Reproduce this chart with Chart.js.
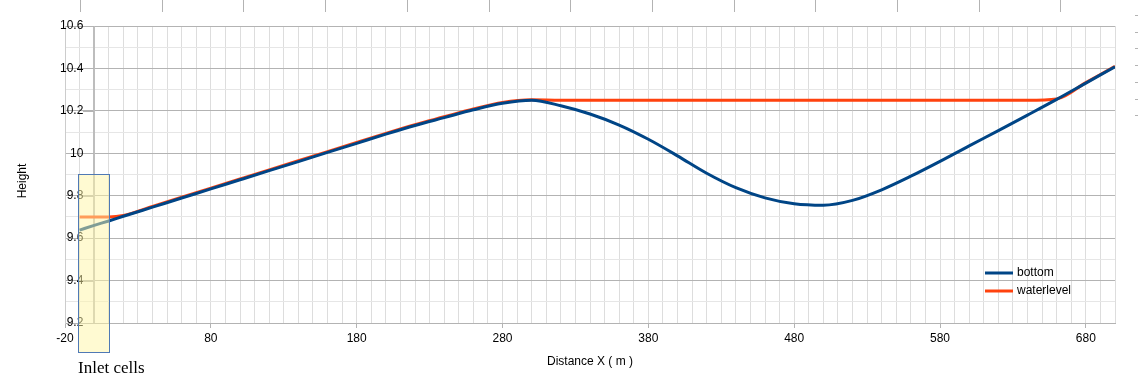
<!DOCTYPE html>
<html>
<head>
<meta charset="utf-8">
<title>Height profile</title>
<script src="https://cdn.jsdelivr.net/npm/chart.js@4.4.1/dist/chart.umd.min.js"></script>
<style>
  html, body { margin: 0; padding: 0; background: #fff; }
  #wrap { width: 1138px; height: 386px; }
</style>
</head>
<body>
<div id="wrap"><canvas id="profileChart" width="1138" height="386"></canvas></div>
<script>
// Chart data
const distance = [-10, 0, 10, 20, 40, 60, 80, 100, 120, 140, 160, 180, 200, 220, 240, 260, 280, 300,
                  320, 340, 360, 380, 400, 420, 440, 460, 480, 500, 520, 540, 560, 580, 600, 620, 640, 660, 680, 700];
const bottom = [9.638, 9.660, 9.681, 9.703, 9.746, 9.789, 9.832, 9.875, 9.918, 9.961, 10.004, 10.047, 10.090, 10.131, 10.168, 10.205, 10.236, 10.250,
                10.224, 10.185, 10.133, 10.066, 9.988, 9.906, 9.838, 9.790, 9.762, 9.755, 9.778, 9.828, 9.892, 9.962, 10.035, 10.107, 10.180, 10.254, 10.331, 10.408];
const waterlevel = [9.700, 9.700, 9.700, 9.707, 9.750, 9.793, 9.836, 9.879, 9.922, 9.965, 10.008, 10.051, 10.094, 10.135, 10.172, 10.209, 10.240, 10.252,
                    10.250, 10.250, 10.250, 10.250, 10.250, 10.250, 10.250, 10.250, 10.250, 10.250, 10.250, 10.250, 10.250, 10.250, 10.250, 10.250, 10.250, 10.256, 10.333, 10.410];

const xTickLabels = [-20, 80, 180, 280, 380, 480, 580, 680];
const yTickLabels = [9.2, 9.4, 9.6, 9.8, 10, 10.2, 10.4, 10.6];

// the y axis crosses at x = 0
const yAxisAt = 0;

// inlet cells box, in data units
const inletFrom = -11, inletTo = 10.5, inletTop = 9.9, inletBottom = 9.06;

const FONT = 'Liberation Sans, Arial, sans-serif';

function isLabel(list, v) {
    return list.some(l => Math.abs(l - v) < 1e-6);
}

const extras = {
    id: 'extras',
    beforeDatasetsDraw(chart) {
        // y axis line and its outward ticks at x = 0
        const ctx = chart.ctx;
        const xs = chart.scales.x, ys = chart.scales.y;
        const ax = Math.round(xs.getPixelForValue(yAxisAt));
        ctx.save();
        ctx.strokeStyle = '#bdbdbd';
        ctx.lineWidth = 2;
        ctx.beginPath();
        ctx.moveTo(ax, chart.chartArea.top);
        ctx.lineTo(ax, chart.chartArea.bottom);
        ctx.stroke();
        ctx.lineWidth = 1;
        ctx.strokeStyle = '#b3b3b3';
        yTickLabels.forEach(v => {
            const py = Math.round(ys.getPixelForValue(v)) + 0.5;
            ctx.beginPath();
            ctx.moveTo(ax - 11, py);
            ctx.lineTo(ax, py);
            ctx.stroke();
        });
        ctx.restore();
    },
    afterDraw(chart) {
        const ctx = chart.ctx;
        const xs = chart.scales.x, ys = chart.scales.y;

        // stray tick marks along the top and right edges
        ctx.save();
        ctx.strokeStyle = '#b3b3b3';
        ctx.lineWidth = 1;
        for (let k = 0; k < 13; k++) {
            const px = Math.round(80 + k * 81.7) + 0.5;
            ctx.beginPath();
            ctx.moveTo(px, 0);
            ctx.lineTo(px, 12);
            ctx.stroke();
        }
        for (let k = 0; k < 7; k++) {
            const py = Math.round(15 + k * 16.7) + 0.5;
            ctx.beginPath();
            ctx.moveTo(1135, py);
            ctx.lineTo(1138, py);
            ctx.stroke();
        }
        ctx.restore();

        // inlet cells box
        const bx1 = xs.getPixelForValue(inletFrom), bx2 = xs.getPixelForValue(inletTo);
        const by1 = ys.getPixelForValue(inletTop), by2 = ys.getPixelForValue(inletBottom);
        ctx.save();
        ctx.fillStyle = 'rgba(255, 246, 165, 0.5)';
        ctx.fillRect(bx1, by1, bx2 - bx1, by2 - by1);
        ctx.strokeStyle = '#4f79b5';
        ctx.lineWidth = 1;
        ctx.strokeRect(Math.round(bx1) + 0.5, Math.round(by1) + 0.5, Math.round(bx2 - bx1), Math.round(by2 - by1));
        ctx.fillStyle = '#000';
        ctx.font = '17px "Liberation Serif", "Times New Roman", serif';
        ctx.textBaseline = 'alphabetic';
        ctx.textAlign = 'left';
        ctx.fillText('Inlet cells', Math.round(bx1), 373);
        ctx.restore();

        // y axis title
        ctx.save();
        ctx.translate(23, 181);
        ctx.rotate(-Math.PI / 2);
        ctx.fillStyle = '#000';
        ctx.font = '12px ' + FONT;
        ctx.textAlign = 'center';
        ctx.textBaseline = 'middle';
        ctx.fillText('Height', 0, 0);
        ctx.restore();

        // legend
        ctx.save();
        ctx.font = '12px ' + FONT;
        ctx.textBaseline = 'middle';
        ctx.textAlign = 'left';
        chart.data.datasets.forEach((ds, i) => {
            const ly = 273 + i * 18;
            ctx.strokeStyle = ds.borderColor;
            ctx.lineWidth = 3;
            ctx.beginPath();
            ctx.moveTo(985, ly);
            ctx.lineTo(1013, ly);
            ctx.stroke();
            ctx.fillStyle = '#000';
            ctx.fillText(ds.label, 1017, ly);
        });
        ctx.restore();
    }
};

new Chart(document.getElementById('profileChart'), {
    type: 'line',
    data: {
        labels: distance,
        datasets: [{
            label: 'bottom',
            data: distance.map((x, i) => ({x: x, y: bottom[i]})),
            borderColor: '#004586',
            borderWidth: 3,
            pointRadius: 0,
            cubicInterpolationMode: 'monotone',
            fill: false
        }, {
            label: 'waterlevel',
            data: distance.map((x, i) => ({x: x, y: waterlevel[i]})),
            borderColor: '#ff420e',
            borderWidth: 3,
            pointRadius: 0,
            cubicInterpolationMode: 'monotone',
            fill: false
        }]
    },
    options: {
        responsive: false,
        animation: false,
        layout: {
            padding: {left: 65, right: 23, top: 26, bottom: 0}
        },
        plugins: {
            legend: {display: false},
            tooltip: {enabled: false}
        },
        scales: {
            x: {
                type: 'linear',
                min: -20,
                max: 700,
                afterFit: function(scale) { scale.height = 63; },
                ticks: {
                    stepSize: 10,
                    maxTicksLimit: 1000,
                    autoSkip: false,
                    maxRotation: 0,
                    padding: 3,
                    color: '#000',
                    font: {family: FONT, size: 12},
                    callback: v => isLabel(xTickLabels, v) ? String(v) : ''
                },
                grid: {
                    color: '#dddddd',
                    tickLength: 5,
                    tickColor: c => isLabel(xTickLabels, c.tick.value) ? '#b3b3b3' : 'rgba(0,0,0,0)'
                },
                border: {color: '#b3b3b3'},
                title: {
                    display: true,
                    text: 'Distance X ( m )',
                    color: '#000',
                    font: {family: FONT, size: 12},
                    padding: {top: 4, bottom: 17}
                }
            },
            y: {
                type: 'linear',
                min: 9.2,
                max: 10.6,
                position: 'left',
                afterFit: function(scale) { scale.width = 0; },
                ticks: {
                    stepSize: 0.1,
                    maxTicksLimit: 1000,
                    autoSkip: false,
                    mirror: true,
                    crossAlign: 'far',
                    padding: -5,
                    color: '#000',
                    font: {family: FONT, size: 12},
                    callback: v => isLabel(yTickLabels, v) ? String(Math.round(v * 10) / 10) : ''
                },
                grid: {
                    color: c => isLabel(yTickLabels, c.tick.value) ? '#b3b3b3' : '#e6e6e6',
                    drawTicks: false
                },
                border: {color: '#cccccc'}
            }
        }
    },
    plugins: [extras]
});
</script>
</body>
</html>
